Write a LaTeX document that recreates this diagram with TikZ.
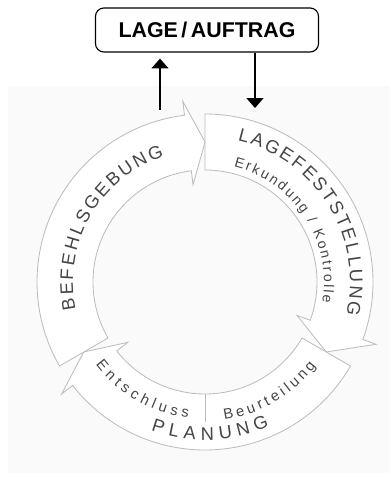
\documentclass[tikz,border=0pt]{standalone}
\usepackage{fontspec}
\setmainfont{Liberation Sans}
\setsansfont{Liberation Sans}
\usetikzlibrary{arrows.meta,positioning,decorations.text}
\definecolor{ringgray}{HTML}{BDBDBD}
\definecolor{labgray}{HTML}{454545}
\definecolor{bggray}{HTML}{FAFAFA}

\begin{document}
\begin{tikzpicture}[x=0.025cm,y=0.025cm,
  seg/.style={draw=ringgray,line width=0.6pt,fill=white},
  arclab/.style={decorate,decoration={text along path,text align=fit to path,text color=labgray,text={#1}}},
  flow/.style={-{Triangle[width=12pt,length=7pt]},line width=0.9pt}]
\useasboundingbox (-205,-195) rectangle (185,282);
\fill[bggray] (-197,-191) rectangle (185,196);
\node[draw,rounded corners=6pt,line width=0.8pt,minimum width=5.575cm,minimum height=1.1cm,
  font=\bfseries\fontsize{15.2}{17}\selectfont] (lage) at (2,252) {LAGE\,/\,AUFTRAG};
\foreach \from/\barb/\tip in {90/-20/-30,-30/-142/-150,210/97/90}{
  \draw[seg] (\from:112) -- (\from:168) arc[start angle=\from,end angle=\barb,radius=168]
    -- (\barb:182) -- (\tip:140) -- (\barb:98) -- (\barb:112)
    arc[start angle=\barb,end angle=\from,radius=112] -- cycle;}
\draw[ringgray,line width=0.6pt] (-90:112) -- (-90:140);
\path[arclab={|\fontsize{13}{15}\selectfont|LAGEFESTSTELLUNG}] (77:145) arc[start angle=77,end angle=-13,radius=145];
\path[arclab={|\fontsize{10}{12}\selectfont|Erkundung / Kontrolle}] (76:119) arc[start angle=76,end angle=-10,radius=119];
\path[arclab={|\fontsize{13}{15}\selectfont|BEFEHLSGEBUNG}] (192:132) arc[start angle=192,end angle=108,radius=132];
\path[arclab={|\fontsize{13}{15}\selectfont|PLANUNG}] (250:158) arc[start angle=250,end angle=294,radius=158];
\path[arclab={|\fontsize{10.5}{12}\selectfont|Entschluss}] (217:137) arc[start angle=217,end angle=263,radius=137];
\path[arclab={|\fontsize{10.5}{12}\selectfont|Beurteilung}] (278:139) arc[start angle=278,end angle=323,radius=139];
\coordinate (befehlEnd) at (-45,172);
\coordinate (feststEnd) at (50,174);
\draw[flow,shorten >=0.15cm] (befehlEnd) -- (befehlEnd |- lage.south);
\draw[flow] (lage.south -| feststEnd) -- (feststEnd);
\end{tikzpicture}
\end{document}
